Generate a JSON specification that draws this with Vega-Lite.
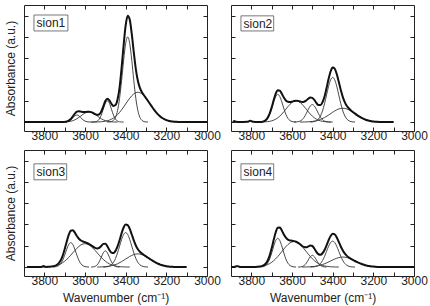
{
"$schema":"https://vega.github.io/schema/vega-lite/v6.json",
"padding":{"left":4,"top":4,"right":2,"bottom":2},
"datasets":{"d":[
{"p":1,"c":"s","x":3900,"y":0},{"p":1,"c":"s","x":3800,"y":0},{"p":1,"c":"s","x":3730,"y":0},{"p":1,"c":"s","x":3720,"y":0},{"p":1,"c":"s","x":3710,"y":0.001},{"p":1,"c":"s","x":3700,"y":0.009},{"p":1,"c":"s","x":3690,"y":0.026},{"p":1,"c":"s","x":3680,"y":0.066},{"p":1,"c":"s","x":3670,"y":0.145},{"p":1,"c":"s","x":3660,"y":0.265},{"p":1,"c":"s","x":3650,"y":0.395},{"p":1,"c":"s","x":3640,"y":0.486},{"p":1,"c":"s","x":3630,"y":0.511},{"p":1,"c":"s","x":3620,"y":0.491},{"p":1,"c":"s","x":3610,"y":0.469},{"p":1,"c":"s","x":3600,"y":0.469},{"p":1,"c":"s","x":3590,"y":0.48},{"p":1,"c":"s","x":3580,"y":0.484},{"p":1,"c":"s","x":3570,"y":0.466},{"p":1,"c":"s","x":3560,"y":0.426},{"p":1,"c":"s","x":3550,"y":0.373},{"p":1,"c":"s","x":3540,"y":0.34},{"p":1,"c":"s","x":3530,"y":0.364},{"p":1,"c":"s","x":3520,"y":0.496},{"p":1,"c":"s","x":3510,"y":0.736},{"p":1,"c":"s","x":3500,"y":0.989},{"p":1,"c":"s","x":3490,"y":1.1},{"p":1,"c":"s","x":3480,"y":1.02},{"p":1,"c":"s","x":3470,"y":0.86},{"p":1,"c":"s","x":3460,"y":0.76},{"p":1,"c":"s","x":3450,"y":0.8},{"p":1,"c":"s","x":3440,"y":1.06},{"p":1,"c":"s","x":3430,"y":1.62},{"p":1,"c":"s","x":3420,"y":2.55},{"p":1,"c":"s","x":3410,"y":3.612},{"p":1,"c":"s","x":3400,"y":4.542},{"p":1,"c":"s","x":3390,"y":4.99},{"p":1,"c":"s","x":3380,"y":4.813},{"p":1,"c":"s","x":3370,"y":4.14},{"p":1,"c":"s","x":3360,"y":3.272},{"p":1,"c":"s","x":3350,"y":2.492},{"p":1,"c":"s","x":3340,"y":1.94},{"p":1,"c":"s","x":3330,"y":1.604},{"p":1,"c":"s","x":3320,"y":1.404},{"p":1,"c":"s","x":3310,"y":1.26},{"p":1,"c":"s","x":3300,"y":1.127},{"p":1,"c":"s","x":3290,"y":0.99},{"p":1,"c":"s","x":3280,"y":0.85},{"p":1,"c":"s","x":3270,"y":0.708},{"p":1,"c":"s","x":3260,"y":0.575},{"p":1,"c":"s","x":3250,"y":0.455},{"p":1,"c":"s","x":3240,"y":0.349},{"p":1,"c":"s","x":3230,"y":0.262},{"p":1,"c":"s","x":3220,"y":0.189},{"p":1,"c":"s","x":3210,"y":0.134},{"p":1,"c":"s","x":3200,"y":0.092},{"p":1,"c":"s","x":3190,"y":0.062},{"p":1,"c":"s","x":3180,"y":0.041},{"p":1,"c":"s","x":3170,"y":0.025},{"p":1,"c":"s","x":3160,"y":0.015},{"p":1,"c":"s","x":3150,"y":0.009},{"p":1,"c":"s","x":3140,"y":0.005},{"p":1,"c":"s","x":3100,"y":0},{"p":1,"c":"s","x":3000,"y":0},
{"p":1,"c":"a","x":3720,"y":0},{"p":1,"c":"a","x":3710,"y":0.001},{"p":1,"c":"a","x":3700,"y":0.004},{"p":1,"c":"a","x":3690,"y":0.015},{"p":1,"c":"a","x":3680,"y":0.045},{"p":1,"c":"a","x":3670,"y":0.107},{"p":1,"c":"a","x":3660,"y":0.2},{"p":1,"c":"a","x":3650,"y":0.291},{"p":1,"c":"a","x":3640,"y":0.33},{"p":1,"c":"a","x":3630,"y":0.291},{"p":1,"c":"a","x":3620,"y":0.2},{"p":1,"c":"a","x":3610,"y":0.107},{"p":1,"c":"a","x":3600,"y":0.045},{"p":1,"c":"a","x":3590,"y":0.015},{"p":1,"c":"a","x":3580,"y":0.004},{"p":1,"c":"a","x":3570,"y":0.001},{"p":1,"c":"a","x":3560,"y":0},
{"p":1,"c":"b","x":3720,"y":0},{"p":1,"c":"b","x":3700,"y":0.005},{"p":1,"c":"b","x":3680,"y":0.021},{"p":1,"c":"b","x":3660,"y":0.065},{"p":1,"c":"b","x":3640,"y":0.156},{"p":1,"c":"b","x":3620,"y":0.291},{"p":1,"c":"b","x":3600,"y":0.424},{"p":1,"c":"b","x":3580,"y":0.48},{"p":1,"c":"b","x":3560,"y":0.424},{"p":1,"c":"b","x":3540,"y":0.291},{"p":1,"c":"b","x":3520,"y":0.156},{"p":1,"c":"b","x":3500,"y":0.065},{"p":1,"c":"b","x":3480,"y":0.021},{"p":1,"c":"b","x":3460,"y":0.005},{"p":1,"c":"b","x":3440,"y":0},
{"p":1,"c":"c","x":3570,"y":0},{"p":1,"c":"c","x":3560,"y":0.002},{"p":1,"c":"c","x":3550,"y":0.011},{"p":1,"c":"c","x":3540,"y":0.044},{"p":1,"c":"c","x":3530,"y":0.135},{"p":1,"c":"c","x":3520,"y":0.325},{"p":1,"c":"c","x":3510,"y":0.607},{"p":1,"c":"c","x":3500,"y":0.883},{"p":1,"c":"c","x":3490,"y":1.0},{"p":1,"c":"c","x":3480,"y":0.883},{"p":1,"c":"c","x":3470,"y":0.607},{"p":1,"c":"c","x":3460,"y":0.325},{"p":1,"c":"c","x":3450,"y":0.135},{"p":1,"c":"c","x":3440,"y":0.044},{"p":1,"c":"c","x":3430,"y":0.011},{"p":1,"c":"c","x":3420,"y":0.002},{"p":1,"c":"c","x":3410,"y":0},
{"p":1,"c":"d","x":3490,"y":0},{"p":1,"c":"d","x":3480,"y":0.006},{"p":1,"c":"d","x":3470,"y":0.024},{"p":1,"c":"d","x":3460,"y":0.08},{"p":1,"c":"d","x":3450,"y":0.224},{"p":1,"c":"d","x":3440,"y":0.54},{"p":1,"c":"d","x":3430,"y":1.112},{"p":1,"c":"d","x":3420,"y":1.948},{"p":1,"c":"d","x":3410,"y":2.904},{"p":1,"c":"d","x":3400,"y":3.692},{"p":1,"c":"d","x":3390,"y":4.0},{"p":1,"c":"d","x":3380,"y":3.692},{"p":1,"c":"d","x":3370,"y":2.904},{"p":1,"c":"d","x":3360,"y":1.948},{"p":1,"c":"d","x":3350,"y":1.112},{"p":1,"c":"d","x":3340,"y":0.54},{"p":1,"c":"d","x":3330,"y":0.224},{"p":1,"c":"d","x":3320,"y":0.08},{"p":1,"c":"d","x":3310,"y":0.024},{"p":1,"c":"d","x":3300,"y":0.006},{"p":1,"c":"d","x":3290,"y":0},
{"p":1,"c":"e","x":3560,"y":0},{"p":1,"c":"e","x":3540,"y":0.005},{"p":1,"c":"e","x":3520,"y":0.015},{"p":1,"c":"e","x":3500,"y":0.041},{"p":1,"c":"e","x":3480,"y":0.092},{"p":1,"c":"e","x":3460,"y":0.189},{"p":1,"c":"e","x":3440,"y":0.349},{"p":1,"c":"e","x":3420,"y":0.575},{"p":1,"c":"e","x":3400,"y":0.85},{"p":1,"c":"e","x":3380,"y":1.121},{"p":1,"c":"e","x":3360,"y":1.324},{"p":1,"c":"e","x":3340,"y":1.4},{"p":1,"c":"e","x":3320,"y":1.324},{"p":1,"c":"e","x":3300,"y":1.121},{"p":1,"c":"e","x":3280,"y":0.85},{"p":1,"c":"e","x":3260,"y":0.575},{"p":1,"c":"e","x":3240,"y":0.349},{"p":1,"c":"e","x":3220,"y":0.189},{"p":1,"c":"e","x":3200,"y":0.092},{"p":1,"c":"e","x":3180,"y":0.041},{"p":1,"c":"e","x":3160,"y":0.015},{"p":1,"c":"e","x":3140,"y":0.005},{"p":1,"c":"e","x":3120,"y":0},
{"p":2,"c":"s","x":3890,"y":0},{"p":2,"c":"s","x":3885,"y":0.05},{"p":2,"c":"s","x":3875,"y":0.01},{"p":2,"c":"s","x":3860,"y":0},{"p":2,"c":"s","x":3820,"y":0.01},{"p":2,"c":"s","x":3805,"y":0.06},{"p":2,"c":"s","x":3790,"y":0.01},{"p":2,"c":"s","x":3770,"y":0},{"p":2,"c":"s","x":3760,"y":0},{"p":2,"c":"s","x":3750,"y":0.008},{"p":2,"c":"s","x":3740,"y":0.032},{"p":2,"c":"s","x":3730,"y":0.084},{"p":2,"c":"s","x":3720,"y":0.196},{"p":2,"c":"s","x":3710,"y":0.395},{"p":2,"c":"s","x":3700,"y":0.689},{"p":2,"c":"s","x":3690,"y":1.033},{"p":2,"c":"s","x":3680,"y":1.335},{"p":2,"c":"s","x":3670,"y":1.498},{"p":2,"c":"s","x":3660,"y":1.478},{"p":2,"c":"s","x":3650,"y":1.33},{"p":2,"c":"s","x":3640,"y":1.15},{"p":2,"c":"s","x":3630,"y":1.01},{"p":2,"c":"s","x":3620,"y":0.95},{"p":2,"c":"s","x":3610,"y":0.94},{"p":2,"c":"s","x":3600,"y":0.96},{"p":2,"c":"s","x":3590,"y":0.99},{"p":2,"c":"s","x":3580,"y":1.005},{"p":2,"c":"s","x":3570,"y":0.996},{"p":2,"c":"s","x":3560,"y":0.969},{"p":2,"c":"s","x":3550,"y":0.946},{"p":2,"c":"s","x":3540,"y":0.958},{"p":2,"c":"s","x":3530,"y":1.013},{"p":2,"c":"s","x":3520,"y":1.094},{"p":2,"c":"s","x":3510,"y":1.151},{"p":2,"c":"s","x":3500,"y":1.135},{"p":2,"c":"s","x":3490,"y":1.04},{"p":2,"c":"s","x":3480,"y":0.9},{"p":2,"c":"s","x":3470,"y":0.8},{"p":2,"c":"s","x":3460,"y":0.8},{"p":2,"c":"s","x":3450,"y":0.93},{"p":2,"c":"s","x":3440,"y":1.2},{"p":2,"c":"s","x":3430,"y":1.6},{"p":2,"c":"s","x":3420,"y":2.03},{"p":2,"c":"s","x":3410,"y":2.382},{"p":2,"c":"s","x":3400,"y":2.56},{"p":2,"c":"s","x":3390,"y":2.508},{"p":2,"c":"s","x":3380,"y":2.256},{"p":2,"c":"s","x":3370,"y":1.89},{"p":2,"c":"s","x":3360,"y":1.504},{"p":2,"c":"s","x":3350,"y":1.173},{"p":2,"c":"s","x":3340,"y":0.925},{"p":2,"c":"s","x":3330,"y":0.754},{"p":2,"c":"s","x":3320,"y":0.635},{"p":2,"c":"s","x":3310,"y":0.544},{"p":2,"c":"s","x":3300,"y":0.468},{"p":2,"c":"s","x":3290,"y":0.395},{"p":2,"c":"s","x":3280,"y":0.329},{"p":2,"c":"s","x":3270,"y":0.267},{"p":2,"c":"s","x":3260,"y":0.211},{"p":2,"c":"s","x":3250,"y":0.162},{"p":2,"c":"s","x":3240,"y":0.122},{"p":2,"c":"s","x":3230,"y":0.088},{"p":2,"c":"s","x":3220,"y":0.062},{"p":2,"c":"s","x":3210,"y":0.043},{"p":2,"c":"s","x":3200,"y":0.029},{"p":2,"c":"s","x":3190,"y":0.019},{"p":2,"c":"s","x":3180,"y":0.012},{"p":2,"c":"s","x":3170,"y":0.007},{"p":2,"c":"s","x":3160,"y":0.004},{"p":2,"c":"s","x":3100,"y":0},
{"p":2,"c":"a","x":3760,"y":0},{"p":2,"c":"a","x":3750,"y":0.008},{"p":2,"c":"a","x":3740,"y":0.026},{"p":2,"c":"a","x":3730,"y":0.073},{"p":2,"c":"a","x":3720,"y":0.176},{"p":2,"c":"a","x":3710,"y":0.361},{"p":2,"c":"a","x":3700,"y":0.633},{"p":2,"c":"a","x":3690,"y":0.944},{"p":2,"c":"a","x":3680,"y":1.2},{"p":2,"c":"a","x":3670,"y":1.3},{"p":2,"c":"a","x":3660,"y":1.2},{"p":2,"c":"a","x":3650,"y":0.944},{"p":2,"c":"a","x":3640,"y":0.633},{"p":2,"c":"a","x":3630,"y":0.361},{"p":2,"c":"a","x":3620,"y":0.176},{"p":2,"c":"a","x":3610,"y":0.073},{"p":2,"c":"a","x":3600,"y":0.026},{"p":2,"c":"a","x":3590,"y":0.008},{"p":2,"c":"a","x":3580,"y":0},
{"p":2,"c":"b","x":3760,"y":0},{"p":2,"c":"b","x":3740,"y":0.006},{"p":2,"c":"b","x":3720,"y":0.02},{"p":2,"c":"b","x":3700,"y":0.056},{"p":2,"c":"b","x":3680,"y":0.135},{"p":2,"c":"b","x":3660,"y":0.278},{"p":2,"c":"b","x":3640,"y":0.487},{"p":2,"c":"b","x":3620,"y":0.726},{"p":2,"c":"b","x":3600,"y":0.923},{"p":2,"c":"b","x":3580,"y":1.0},{"p":2,"c":"b","x":3560,"y":0.923},{"p":2,"c":"b","x":3540,"y":0.726},{"p":2,"c":"b","x":3520,"y":0.487},{"p":2,"c":"b","x":3500,"y":0.278},{"p":2,"c":"b","x":3480,"y":0.135},{"p":2,"c":"b","x":3460,"y":0.056},{"p":2,"c":"b","x":3440,"y":0.02},{"p":2,"c":"b","x":3420,"y":0.006},{"p":2,"c":"b","x":3400,"y":0},
{"p":2,"c":"c","x":3590,"y":0},{"p":2,"c":"c","x":3580,"y":0.005},{"p":2,"c":"c","x":3570,"y":0.016},{"p":2,"c":"c","x":3560,"y":0.046},{"p":2,"c":"c","x":3550,"y":0.111},{"p":2,"c":"c","x":3540,"y":0.228},{"p":2,"c":"c","x":3530,"y":0.399},{"p":2,"c":"c","x":3520,"y":0.595},{"p":2,"c":"c","x":3510,"y":0.757},{"p":2,"c":"c","x":3500,"y":0.82},{"p":2,"c":"c","x":3490,"y":0.757},{"p":2,"c":"c","x":3480,"y":0.595},{"p":2,"c":"c","x":3470,"y":0.399},{"p":2,"c":"c","x":3460,"y":0.228},{"p":2,"c":"c","x":3450,"y":0.111},{"p":2,"c":"c","x":3440,"y":0.046},{"p":2,"c":"c","x":3430,"y":0.016},{"p":2,"c":"c","x":3420,"y":0.005},{"p":2,"c":"c","x":3410,"y":0},
{"p":2,"c":"d","x":3510,"y":0},{"p":2,"c":"d","x":3500,"y":0.008},{"p":2,"c":"d","x":3490,"y":0.023},{"p":2,"c":"d","x":3480,"y":0.061},{"p":2,"c":"d","x":3470,"y":0.139},{"p":2,"c":"d","x":3460,"y":0.284},{"p":2,"c":"d","x":3450,"y":0.523},{"p":2,"c":"d","x":3440,"y":0.863},{"p":2,"c":"d","x":3430,"y":1.275},{"p":2,"c":"d","x":3420,"y":1.682},{"p":2,"c":"d","x":3410,"y":1.987},{"p":2,"c":"d","x":3400,"y":2.1},{"p":2,"c":"d","x":3390,"y":1.987},{"p":2,"c":"d","x":3380,"y":1.682},{"p":2,"c":"d","x":3370,"y":1.275},{"p":2,"c":"d","x":3360,"y":0.863},{"p":2,"c":"d","x":3350,"y":0.523},{"p":2,"c":"d","x":3340,"y":0.284},{"p":2,"c":"d","x":3330,"y":0.139},{"p":2,"c":"d","x":3320,"y":0.061},{"p":2,"c":"d","x":3310,"y":0.023},{"p":2,"c":"d","x":3300,"y":0.008},{"p":2,"c":"d","x":3290,"y":0},
{"p":2,"c":"e","x":3560,"y":0},{"p":2,"c":"e","x":3540,"y":0.004},{"p":2,"c":"e","x":3520,"y":0.012},{"p":2,"c":"e","x":3500,"y":0.029},{"p":2,"c":"e","x":3480,"y":0.062},{"p":2,"c":"e","x":3460,"y":0.122},{"p":2,"c":"e","x":3440,"y":0.211},{"p":2,"c":"e","x":3420,"y":0.329},{"p":2,"c":"e","x":3400,"y":0.46},{"p":2,"c":"e","x":3380,"y":0.574},{"p":2,"c":"e","x":3360,"y":0.641},{"p":2,"c":"e","x":3350,"y":0.65},{"p":2,"c":"e","x":3340,"y":0.641},{"p":2,"c":"e","x":3320,"y":0.574},{"p":2,"c":"e","x":3300,"y":0.46},{"p":2,"c":"e","x":3280,"y":0.329},{"p":2,"c":"e","x":3260,"y":0.211},{"p":2,"c":"e","x":3240,"y":0.122},{"p":2,"c":"e","x":3220,"y":0.062},{"p":2,"c":"e","x":3200,"y":0.029},{"p":2,"c":"e","x":3180,"y":0.012},{"p":2,"c":"e","x":3160,"y":0.004},{"p":2,"c":"e","x":3140,"y":0},
{"p":3,"c":"s","x":3885,"y":0},{"p":3,"c":"s","x":3830,"y":0},{"p":3,"c":"s","x":3815,"y":0.005},{"p":3,"c":"s","x":3805,"y":0.05},{"p":3,"c":"s","x":3795,"y":0.01},{"p":3,"c":"s","x":3790,"y":0.007},{"p":3,"c":"s","x":3780,"y":0.012},{"p":3,"c":"s","x":3770,"y":0.02},{"p":3,"c":"s","x":3760,"y":0.032},{"p":3,"c":"s","x":3750,"y":0.055},{"p":3,"c":"s","x":3740,"y":0.096},{"p":3,"c":"s","x":3730,"y":0.17},{"p":3,"c":"s","x":3720,"y":0.304},{"p":3,"c":"s","x":3710,"y":0.526},{"p":3,"c":"s","x":3700,"y":0.834},{"p":3,"c":"s","x":3690,"y":1.193},{"p":3,"c":"s","x":3680,"y":1.513},{"p":3,"c":"s","x":3670,"y":1.707},{"p":3,"c":"s","x":3660,"y":1.729},{"p":3,"c":"s","x":3650,"y":1.62},{"p":3,"c":"s","x":3640,"y":1.46},{"p":3,"c":"s","x":3630,"y":1.33},{"p":3,"c":"s","x":3620,"y":1.25},{"p":3,"c":"s","x":3610,"y":1.2},{"p":3,"c":"s","x":3600,"y":1.17},{"p":3,"c":"s","x":3590,"y":1.13},{"p":3,"c":"s","x":3580,"y":1.08},{"p":3,"c":"s","x":3570,"y":1.02},{"p":3,"c":"s","x":3560,"y":0.96},{"p":3,"c":"s","x":3550,"y":0.9},{"p":3,"c":"s","x":3540,"y":0.87},{"p":3,"c":"s","x":3530,"y":0.9},{"p":3,"c":"s","x":3520,"y":0.99},{"p":3,"c":"s","x":3510,"y":1.09},{"p":3,"c":"s","x":3500,"y":1.1},{"p":3,"c":"s","x":3490,"y":0.98},{"p":3,"c":"s","x":3480,"y":0.8},{"p":3,"c":"s","x":3470,"y":0.68},{"p":3,"c":"s","x":3460,"y":0.66},{"p":3,"c":"s","x":3450,"y":0.76},{"p":3,"c":"s","x":3440,"y":0.97},{"p":3,"c":"s","x":3430,"y":1.26},{"p":3,"c":"s","x":3420,"y":1.59},{"p":3,"c":"s","x":3410,"y":1.86},{"p":3,"c":"s","x":3400,"y":2.0},{"p":3,"c":"s","x":3390,"y":1.971},{"p":3,"c":"s","x":3380,"y":1.795},{"p":3,"c":"s","x":3370,"y":1.53},{"p":3,"c":"s","x":3360,"y":1.253},{"p":3,"c":"s","x":3350,"y":1.014},{"p":3,"c":"s","x":3340,"y":0.839},{"p":3,"c":"s","x":3330,"y":0.718},{"p":3,"c":"s","x":3320,"y":0.634},{"p":3,"c":"s","x":3310,"y":0.565},{"p":3,"c":"s","x":3300,"y":0.503},{"p":3,"c":"s","x":3290,"y":0.438},{"p":3,"c":"s","x":3280,"y":0.376},{"p":3,"c":"s","x":3270,"y":0.314},{"p":3,"c":"s","x":3260,"y":0.255},{"p":3,"c":"s","x":3250,"y":0.202},{"p":3,"c":"s","x":3240,"y":0.154},{"p":3,"c":"s","x":3230,"y":0.116},{"p":3,"c":"s","x":3220,"y":0.084},{"p":3,"c":"s","x":3210,"y":0.06},{"p":3,"c":"s","x":3200,"y":0.041},{"p":3,"c":"s","x":3190,"y":0.027},{"p":3,"c":"s","x":3180,"y":0.018},{"p":3,"c":"s","x":3170,"y":0.011},{"p":3,"c":"s","x":3160,"y":0.007},{"p":3,"c":"s","x":3150,"y":0.004},{"p":3,"c":"s","x":3100,"y":0},
{"p":3,"c":"a","x":3760,"y":0},{"p":3,"c":"a","x":3750,"y":0.007},{"p":3,"c":"a","x":3740,"y":0.023},{"p":3,"c":"a","x":3730,"y":0.064},{"p":3,"c":"a","x":3720,"y":0.155},{"p":3,"c":"a","x":3710,"y":0.32},{"p":3,"c":"a","x":3700,"y":0.56},{"p":3,"c":"a","x":3690,"y":0.835},{"p":3,"c":"a","x":3680,"y":1.061},{"p":3,"c":"a","x":3670,"y":1.15},{"p":3,"c":"a","x":3660,"y":1.061},{"p":3,"c":"a","x":3650,"y":0.835},{"p":3,"c":"a","x":3640,"y":0.56},{"p":3,"c":"a","x":3630,"y":0.32},{"p":3,"c":"a","x":3620,"y":0.155},{"p":3,"c":"a","x":3610,"y":0.064},{"p":3,"c":"a","x":3600,"y":0.023},{"p":3,"c":"a","x":3590,"y":0.007},{"p":3,"c":"a","x":3580,"y":0},
{"p":3,"c":"b","x":3820,"y":0},{"p":3,"c":"b","x":3800,"y":0.004},{"p":3,"c":"b","x":3780,"y":0.012},{"p":3,"c":"b","x":3760,"y":0.032},{"p":3,"c":"b","x":3740,"y":0.073},{"p":3,"c":"b","x":3720,"y":0.149},{"p":3,"c":"b","x":3700,"y":0.274},{"p":3,"c":"b","x":3680,"y":0.452},{"p":3,"c":"b","x":3660,"y":0.668},{"p":3,"c":"b","x":3640,"y":0.881},{"p":3,"c":"b","x":3620,"y":1.041},{"p":3,"c":"b","x":3600,"y":1.1},{"p":3,"c":"b","x":3580,"y":1.041},{"p":3,"c":"b","x":3560,"y":0.881},{"p":3,"c":"b","x":3540,"y":0.668},{"p":3,"c":"b","x":3520,"y":0.452},{"p":3,"c":"b","x":3500,"y":0.274},{"p":3,"c":"b","x":3480,"y":0.149},{"p":3,"c":"b","x":3460,"y":0.073},{"p":3,"c":"b","x":3440,"y":0.032},{"p":3,"c":"b","x":3420,"y":0.012},{"p":3,"c":"b","x":3400,"y":0.004},{"p":3,"c":"b","x":3380,"y":0},
{"p":3,"c":"c","x":3570,"y":0},{"p":3,"c":"c","x":3560,"y":0.008},{"p":3,"c":"c","x":3550,"y":0.033},{"p":3,"c":"c","x":3540,"y":0.103},{"p":3,"c":"c","x":3530,"y":0.247},{"p":3,"c":"c","x":3520,"y":0.461},{"p":3,"c":"c","x":3510,"y":0.671},{"p":3,"c":"c","x":3500,"y":0.76},{"p":3,"c":"c","x":3490,"y":0.671},{"p":3,"c":"c","x":3480,"y":0.461},{"p":3,"c":"c","x":3470,"y":0.247},{"p":3,"c":"c","x":3460,"y":0.103},{"p":3,"c":"c","x":3450,"y":0.033},{"p":3,"c":"c","x":3440,"y":0.008},{"p":3,"c":"c","x":3430,"y":0},
{"p":3,"c":"d","x":3510,"y":0},{"p":3,"c":"d","x":3500,"y":0.006},{"p":3,"c":"d","x":3490,"y":0.018},{"p":3,"c":"d","x":3480,"y":0.047},{"p":3,"c":"d","x":3470,"y":0.107},{"p":3,"c":"d","x":3460,"y":0.219},{"p":3,"c":"d","x":3450,"y":0.403},{"p":3,"c":"d","x":3440,"y":0.666},{"p":3,"c":"d","x":3430,"y":0.983},{"p":3,"c":"d","x":3420,"y":1.298},{"p":3,"c":"d","x":3410,"y":1.533},{"p":3,"c":"d","x":3400,"y":1.62},{"p":3,"c":"d","x":3390,"y":1.533},{"p":3,"c":"d","x":3380,"y":1.298},{"p":3,"c":"d","x":3370,"y":0.983},{"p":3,"c":"d","x":3360,"y":0.666},{"p":3,"c":"d","x":3350,"y":0.403},{"p":3,"c":"d","x":3340,"y":0.219},{"p":3,"c":"d","x":3330,"y":0.107},{"p":3,"c":"d","x":3320,"y":0.047},{"p":3,"c":"d","x":3310,"y":0.018},{"p":3,"c":"d","x":3300,"y":0.006},{"p":3,"c":"d","x":3290,"y":0},
{"p":3,"c":"e","x":3540,"y":0},{"p":3,"c":"e","x":3520,"y":0.007},{"p":3,"c":"e","x":3500,"y":0.018},{"p":3,"c":"e","x":3480,"y":0.041},{"p":3,"c":"e","x":3460,"y":0.084},{"p":3,"c":"e","x":3440,"y":0.154},{"p":3,"c":"e","x":3420,"y":0.255},{"p":3,"c":"e","x":3400,"y":0.376},{"p":3,"c":"e","x":3380,"y":0.497},{"p":3,"c":"e","x":3360,"y":0.587},{"p":3,"c":"e","x":3340,"y":0.62},{"p":3,"c":"e","x":3320,"y":0.587},{"p":3,"c":"e","x":3300,"y":0.497},{"p":3,"c":"e","x":3280,"y":0.376},{"p":3,"c":"e","x":3260,"y":0.255},{"p":3,"c":"e","x":3240,"y":0.154},{"p":3,"c":"e","x":3220,"y":0.084},{"p":3,"c":"e","x":3200,"y":0.041},{"p":3,"c":"e","x":3180,"y":0.018},{"p":3,"c":"e","x":3160,"y":0.007},{"p":3,"c":"e","x":3140,"y":0},
{"p":4,"c":"s","x":3900,"y":0},{"p":4,"c":"s","x":3885,"y":0},{"p":4,"c":"s","x":3875,"y":0.04},{"p":4,"c":"s","x":3865,"y":0.04},{"p":4,"c":"s","x":3855,"y":0},{"p":4,"c":"s","x":3800,"y":0},{"p":4,"c":"s","x":3790,"y":0.005},{"p":4,"c":"s","x":3780,"y":0.008},{"p":4,"c":"s","x":3770,"y":0.013},{"p":4,"c":"s","x":3760,"y":0.022},{"p":4,"c":"s","x":3750,"y":0.043},{"p":4,"c":"s","x":3740,"y":0.08},{"p":4,"c":"s","x":3730,"y":0.155},{"p":4,"c":"s","x":3720,"y":0.297},{"p":4,"c":"s","x":3710,"y":0.537},{"p":4,"c":"s","x":3700,"y":0.881},{"p":4,"c":"s","x":3690,"y":1.279},{"p":4,"c":"s","x":3680,"y":1.636},{"p":4,"c":"s","x":3670,"y":1.843},{"p":4,"c":"s","x":3660,"y":1.853},{"p":4,"c":"s","x":3650,"y":1.72},{"p":4,"c":"s","x":3640,"y":1.53},{"p":4,"c":"s","x":3630,"y":1.38},{"p":4,"c":"s","x":3620,"y":1.29},{"p":4,"c":"s","x":3610,"y":1.25},{"p":4,"c":"s","x":3600,"y":1.24},{"p":4,"c":"s","x":3590,"y":1.22},{"p":4,"c":"s","x":3580,"y":1.19},{"p":4,"c":"s","x":3570,"y":1.14},{"p":4,"c":"s","x":3560,"y":1.07},{"p":4,"c":"s","x":3550,"y":0.99},{"p":4,"c":"s","x":3540,"y":0.94},{"p":4,"c":"s","x":3530,"y":0.93},{"p":4,"c":"s","x":3520,"y":0.97},{"p":4,"c":"s","x":3510,"y":1.01},{"p":4,"c":"s","x":3500,"y":0.99},{"p":4,"c":"s","x":3490,"y":0.87},{"p":4,"c":"s","x":3480,"y":0.71},{"p":4,"c":"s","x":3470,"y":0.6},{"p":4,"c":"s","x":3460,"y":0.58},{"p":4,"c":"s","x":3450,"y":0.65},{"p":4,"c":"s","x":3440,"y":0.8},{"p":4,"c":"s","x":3430,"y":1.02},{"p":4,"c":"s","x":3420,"y":1.26},{"p":4,"c":"s","x":3410,"y":1.46},{"p":4,"c":"s","x":3400,"y":1.56},{"p":4,"c":"s","x":3390,"y":1.535},{"p":4,"c":"s","x":3380,"y":1.392},{"p":4,"c":"s","x":3370,"y":1.186},{"p":4,"c":"s","x":3360,"y":0.964},{"p":4,"c":"s","x":3350,"y":0.774},{"p":4,"c":"s","x":3340,"y":0.628},{"p":4,"c":"s","x":3330,"y":0.526},{"p":4,"c":"s","x":3320,"y":0.45},{"p":4,"c":"s","x":3310,"y":0.389},{"p":4,"c":"s","x":3300,"y":0.337},{"p":4,"c":"s","x":3290,"y":0.285},{"p":4,"c":"s","x":3280,"y":0.238},{"p":4,"c":"s","x":3270,"y":0.193},{"p":4,"c":"s","x":3260,"y":0.153},{"p":4,"c":"s","x":3250,"y":0.117},{"p":4,"c":"s","x":3240,"y":0.088},{"p":4,"c":"s","x":3230,"y":0.063},{"p":4,"c":"s","x":3220,"y":0.045},{"p":4,"c":"s","x":3210,"y":0.031},{"p":4,"c":"s","x":3200,"y":0.021},{"p":4,"c":"s","x":3190,"y":0.014},{"p":4,"c":"s","x":3180,"y":0.008},{"p":4,"c":"s","x":3170,"y":0.005},{"p":4,"c":"s","x":3160,"y":0.003},{"p":4,"c":"s","x":3100,"y":0},{"p":4,"c":"s","x":3000,"y":0},
{"p":4,"c":"a","x":3760,"y":0},{"p":4,"c":"a","x":3750,"y":0.008},{"p":4,"c":"a","x":3740,"y":0.027},{"p":4,"c":"a","x":3730,"y":0.076},{"p":4,"c":"a","x":3720,"y":0.182},{"p":4,"c":"a","x":3710,"y":0.375},{"p":4,"c":"a","x":3700,"y":0.657},{"p":4,"c":"a","x":3690,"y":0.98},{"p":4,"c":"a","x":3680,"y":1.246},{"p":4,"c":"a","x":3670,"y":1.35},{"p":4,"c":"a","x":3660,"y":1.246},{"p":4,"c":"a","x":3650,"y":0.98},{"p":4,"c":"a","x":3640,"y":0.657},{"p":4,"c":"a","x":3630,"y":0.375},{"p":4,"c":"a","x":3620,"y":0.182},{"p":4,"c":"a","x":3610,"y":0.076},{"p":4,"c":"a","x":3600,"y":0.027},{"p":4,"c":"a","x":3590,"y":0.008},{"p":4,"c":"a","x":3580,"y":0},
{"p":4,"c":"b","x":3810,"y":0},{"p":4,"c":"b","x":3790,"y":0.005},{"p":4,"c":"b","x":3770,"y":0.013},{"p":4,"c":"b","x":3750,"y":0.035},{"p":4,"c":"b","x":3730,"y":0.079},{"p":4,"c":"b","x":3710,"y":0.162},{"p":4,"c":"b","x":3690,"y":0.299},{"p":4,"c":"b","x":3670,"y":0.493},{"p":4,"c":"b","x":3650,"y":0.728},{"p":4,"c":"b","x":3630,"y":0.961},{"p":4,"c":"b","x":3610,"y":1.135},{"p":4,"c":"b","x":3590,"y":1.2},{"p":4,"c":"b","x":3570,"y":1.135},{"p":4,"c":"b","x":3550,"y":0.961},{"p":4,"c":"b","x":3530,"y":0.728},{"p":4,"c":"b","x":3510,"y":0.493},{"p":4,"c":"b","x":3490,"y":0.299},{"p":4,"c":"b","x":3470,"y":0.162},{"p":4,"c":"b","x":3450,"y":0.079},{"p":4,"c":"b","x":3430,"y":0.035},{"p":4,"c":"b","x":3410,"y":0.013},{"p":4,"c":"b","x":3390,"y":0.005},{"p":4,"c":"b","x":3370,"y":0},
{"p":4,"c":"c","x":3570,"y":0},{"p":4,"c":"c","x":3560,"y":0.006},{"p":4,"c":"c","x":3550,"y":0.024},{"p":4,"c":"c","x":3540,"y":0.074},{"p":4,"c":"c","x":3530,"y":0.179},{"p":4,"c":"c","x":3520,"y":0.334},{"p":4,"c":"c","x":3510,"y":0.485},{"p":4,"c":"c","x":3500,"y":0.55},{"p":4,"c":"c","x":3490,"y":0.485},{"p":4,"c":"c","x":3480,"y":0.334},{"p":4,"c":"c","x":3470,"y":0.179},{"p":4,"c":"c","x":3460,"y":0.074},{"p":4,"c":"c","x":3450,"y":0.024},{"p":4,"c":"c","x":3440,"y":0.006},{"p":4,"c":"c","x":3430,"y":0},
{"p":4,"c":"d","x":3510,"y":0},{"p":4,"c":"d","x":3500,"y":0.005},{"p":4,"c":"d","x":3490,"y":0.013},{"p":4,"c":"d","x":3480,"y":0.035},{"p":4,"c":"d","x":3470,"y":0.081},{"p":4,"c":"d","x":3460,"y":0.165},{"p":4,"c":"d","x":3450,"y":0.304},{"p":4,"c":"d","x":3440,"y":0.501},{"p":4,"c":"d","x":3430,"y":0.741},{"p":4,"c":"d","x":3420,"y":0.977},{"p":4,"c":"d","x":3410,"y":1.154},{"p":4,"c":"d","x":3400,"y":1.22},{"p":4,"c":"d","x":3390,"y":1.154},{"p":4,"c":"d","x":3380,"y":0.977},{"p":4,"c":"d","x":3370,"y":0.741},{"p":4,"c":"d","x":3360,"y":0.501},{"p":4,"c":"d","x":3350,"y":0.304},{"p":4,"c":"d","x":3340,"y":0.165},{"p":4,"c":"d","x":3330,"y":0.081},{"p":4,"c":"d","x":3320,"y":0.035},{"p":4,"c":"d","x":3310,"y":0.013},{"p":4,"c":"d","x":3300,"y":0.005},{"p":4,"c":"d","x":3290,"y":0},
{"p":4,"c":"e","x":3550,"y":0},{"p":4,"c":"e","x":3530,"y":0.005},{"p":4,"c":"e","x":3510,"y":0.014},{"p":4,"c":"e","x":3490,"y":0.031},{"p":4,"c":"e","x":3470,"y":0.063},{"p":4,"c":"e","x":3450,"y":0.117},{"p":4,"c":"e","x":3430,"y":0.193},{"p":4,"c":"e","x":3410,"y":0.285},{"p":4,"c":"e","x":3390,"y":0.376},{"p":4,"c":"e","x":3370,"y":0.445},{"p":4,"c":"e","x":3350,"y":0.47},{"p":4,"c":"e","x":3330,"y":0.445},{"p":4,"c":"e","x":3310,"y":0.376},{"p":4,"c":"e","x":3290,"y":0.285},{"p":4,"c":"e","x":3270,"y":0.193},{"p":4,"c":"e","x":3250,"y":0.117},{"p":4,"c":"e","x":3230,"y":0.063},{"p":4,"c":"e","x":3210,"y":0.031},{"p":4,"c":"e","x":3190,"y":0.014},{"p":4,"c":"e","x":3170,"y":0.005},{"p":4,"c":"e","x":3150,"y":0}
]},
"data":{"name":"d"},
"columns":2,
"spacing":{"row":19,"column":24},
"bounds":"flush",
"concat":[
{"width":183,"height":126,
 "layer":[
  {"transform":[{"filter":"datum.p==1 && datum.c!='s'"}],
   "mark":{"type":"line","interpolate":"monotone","stroke":"#333","strokeWidth":0.9},
   "encoding":{
    "x":{"field":"x","type":"quantitative","scale":{"domain":[3900,3000],"nice":false,"zero":false},"axis":{"orient":"bottom","values":[3800,3700,3600,3500,3400,3300,3200,3100,3000],"format":"d","labelExpr":"datum.value % 200 == 0 ? datum.label : ''","title":null}},
    "y":{"field":"y","type":"quantitative","scale":{"domain":[-0.42,5.5],"nice":false,"zero":false},"axis":{"orient":"left","values":[0,1,2,3,4,5],"labels":false,"title":"Absorbance (a.u.)"}},
    "detail":{"field":"c"}}},
  {"transform":[{"filter":"datum.p==1 && datum.c=='s'"}],
   "mark":{"type":"line","interpolate":"monotone","stroke":"#111","strokeWidth":2},
   "encoding":{
    "x":{"field":"x","type":"quantitative","axis":{"orient":"top","values":[3800,3700,3600,3500,3400,3300,3200,3100],"labels":false,"title":null}},
    "y":{"field":"y","type":"quantitative","axis":{"orient":"right","values":[0,1,2,3,4,5],"labels":false,"title":null}}}},
  {"data":{"values":[{"label":"sion1"}]},
   "mark":{"type":"rect","fill":"white","stroke":"#555","strokeWidth":0.8},
   "encoding":{"x":{"datum":3851,"type":"quantitative","axis":null},"x2":{"datum":3684},"y":{"datum":5.03,"type":"quantitative","axis":null},"y2":{"datum":4.28}}},
  {"data":{"values":[{"label":"sion1"}]},
   "mark":{"type":"text","align":"left","baseline":"middle","fontSize":12,"color":"#222"},
   "encoding":{"x":{"datum":3838,"type":"quantitative","axis":null},"y":{"datum":4.65,"type":"quantitative","axis":null},"text":{"field":"label"}}}
 ],
 "resolve":{"axis":{"x":"independent","y":"independent"}}},
{"width":183,"height":126,
 "layer":[
  {"transform":[{"filter":"datum.p==2 && datum.c!='s'"}],
   "mark":{"type":"line","interpolate":"monotone","stroke":"#333","strokeWidth":0.9},
   "encoding":{
    "x":{"field":"x","type":"quantitative","scale":{"domain":[3900,3000],"nice":false,"zero":false},"axis":{"orient":"bottom","values":[3800,3700,3600,3500,3400,3300,3200,3100,3000],"format":"d","labelExpr":"datum.value % 200 == 0 ? datum.label : ''","title":null}},
    "y":{"field":"y","type":"quantitative","scale":{"domain":[-0.42,5.5],"nice":false,"zero":false},"axis":{"orient":"left","values":[0,1,2,3,4,5],"labels":false,"title":null}},
    "detail":{"field":"c"}}},
  {"transform":[{"filter":"datum.p==2 && datum.c=='s'"}],
   "mark":{"type":"line","interpolate":"monotone","stroke":"#111","strokeWidth":2},
   "encoding":{
    "x":{"field":"x","type":"quantitative","axis":{"orient":"top","values":[3800,3700,3600,3500,3400,3300,3200,3100],"labels":false,"title":null}},
    "y":{"field":"y","type":"quantitative","axis":{"orient":"right","values":[0,1,2,3,4,5],"labels":false,"title":null}}}},
  {"data":{"values":[{"label":"sion2"}]},
   "mark":{"type":"rect","fill":"white","stroke":"#555","strokeWidth":0.8},
   "encoding":{"x":{"datum":3851,"type":"quantitative","axis":null},"x2":{"datum":3690},"y":{"datum":4.99,"type":"quantitative","axis":null},"y2":{"datum":4.28}}},
  {"data":{"values":[{"label":"sion2"}]},
   "mark":{"type":"text","align":"left","baseline":"middle","fontSize":12,"color":"#222"},
   "encoding":{"x":{"datum":3838,"type":"quantitative","axis":null},"y":{"datum":4.63,"type":"quantitative","axis":null},"text":{"field":"label"}}}
 ],
 "resolve":{"axis":{"x":"independent","y":"independent"}}},
{"width":183,"height":126,
 "layer":[
  {"transform":[{"filter":"datum.p==3 && datum.c!='s'"}],
   "mark":{"type":"line","interpolate":"monotone","stroke":"#333","strokeWidth":0.9},
   "encoding":{
    "x":{"field":"x","type":"quantitative","scale":{"domain":[3900,3000],"nice":false,"zero":false},"axis":{"orient":"bottom","values":[3800,3700,3600,3500,3400,3300,3200,3100,3000],"format":"d","labelExpr":"datum.value % 200 == 0 ? datum.label : ''","title":"Wavenumber (cm⁻¹)"}},
    "y":{"field":"y","type":"quantitative","scale":{"domain":[-0.42,5.5],"nice":false,"zero":false},"axis":{"orient":"left","values":[0,1,2,3,4,5],"labels":false,"title":"Absorbance (a.u.)"}},
    "detail":{"field":"c"}}},
  {"transform":[{"filter":"datum.p==3 && datum.c=='s'"}],
   "mark":{"type":"line","interpolate":"monotone","stroke":"#111","strokeWidth":2},
   "encoding":{
    "x":{"field":"x","type":"quantitative","axis":{"orient":"top","values":[3800,3700,3600,3500,3400,3300,3200,3100],"labels":false,"title":null}},
    "y":{"field":"y","type":"quantitative","axis":{"orient":"right","values":[0,1,2,3,4,5],"labels":false,"title":null}}}},
  {"data":{"values":[{"label":"sion3"}]},
   "mark":{"type":"rect","fill":"white","stroke":"#555","strokeWidth":0.8},
   "encoding":{"x":{"datum":3851,"type":"quantitative","axis":null},"x2":{"datum":3690},"y":{"datum":4.85,"type":"quantitative","axis":null},"y2":{"datum":4.1}}},
  {"data":{"values":[{"label":"sion3"}]},
   "mark":{"type":"text","align":"left","baseline":"middle","fontSize":12,"color":"#222"},
   "encoding":{"x":{"datum":3838,"type":"quantitative","axis":null},"y":{"datum":4.47,"type":"quantitative","axis":null},"text":{"field":"label"}}}
 ],
 "resolve":{"axis":{"x":"independent","y":"independent"}}},
{"width":183,"height":126,
 "layer":[
  {"transform":[{"filter":"datum.p==4 && datum.c!='s'"}],
   "mark":{"type":"line","interpolate":"monotone","stroke":"#333","strokeWidth":0.9},
   "encoding":{
    "x":{"field":"x","type":"quantitative","scale":{"domain":[3900,3000],"nice":false,"zero":false},"axis":{"orient":"bottom","values":[3800,3700,3600,3500,3400,3300,3200,3100,3000],"format":"d","labelExpr":"datum.value % 200 == 0 ? datum.label : ''","title":"Wavenumber (cm⁻¹)"}},
    "y":{"field":"y","type":"quantitative","scale":{"domain":[-0.42,5.5],"nice":false,"zero":false},"axis":{"orient":"left","values":[0,1,2,3,4,5],"labels":false,"title":null}},
    "detail":{"field":"c"}}},
  {"transform":[{"filter":"datum.p==4 && datum.c=='s'"}],
   "mark":{"type":"line","interpolate":"monotone","stroke":"#111","strokeWidth":2},
   "encoding":{
    "x":{"field":"x","type":"quantitative","axis":{"orient":"top","values":[3800,3700,3600,3500,3400,3300,3200,3100],"labels":false,"title":null}},
    "y":{"field":"y","type":"quantitative","axis":{"orient":"right","values":[0,1,2,3,4,5],"labels":false,"title":null}}}},
  {"data":{"values":[{"label":"sion4"}]},
   "mark":{"type":"rect","fill":"white","stroke":"#555","strokeWidth":0.8},
   "encoding":{"x":{"datum":3851,"type":"quantitative","axis":null},"x2":{"datum":3690},"y":{"datum":4.85,"type":"quantitative","axis":null},"y2":{"datum":4.1}}},
  {"data":{"values":[{"label":"sion4"}]},
   "mark":{"type":"text","align":"left","baseline":"middle","fontSize":12,"color":"#222"},
   "encoding":{"x":{"datum":3838,"type":"quantitative","axis":null},"y":{"datum":4.47,"type":"quantitative","axis":null},"text":{"field":"label"}}}
 ],
 "resolve":{"axis":{"x":"independent","y":"independent"}}}
],
"config":{
 "font":"Liberation Sans",
 "view":{"stroke":"#222","strokeWidth":1},
 "axis":{"domain":false,"grid":false,"tickSize":-4,"tickColor":"#222","tickWidth":1,"labelFont":"Liberation Sans","labelFontSize":12,"labelColor":"#222","labelPadding":3,"labelFlush":false,"labelOverlap":false,"titleFont":"Liberation Sans","titleFontSize":12,"titleFontWeight":"normal","titleColor":"#222","titlePadding":6}
}
}
